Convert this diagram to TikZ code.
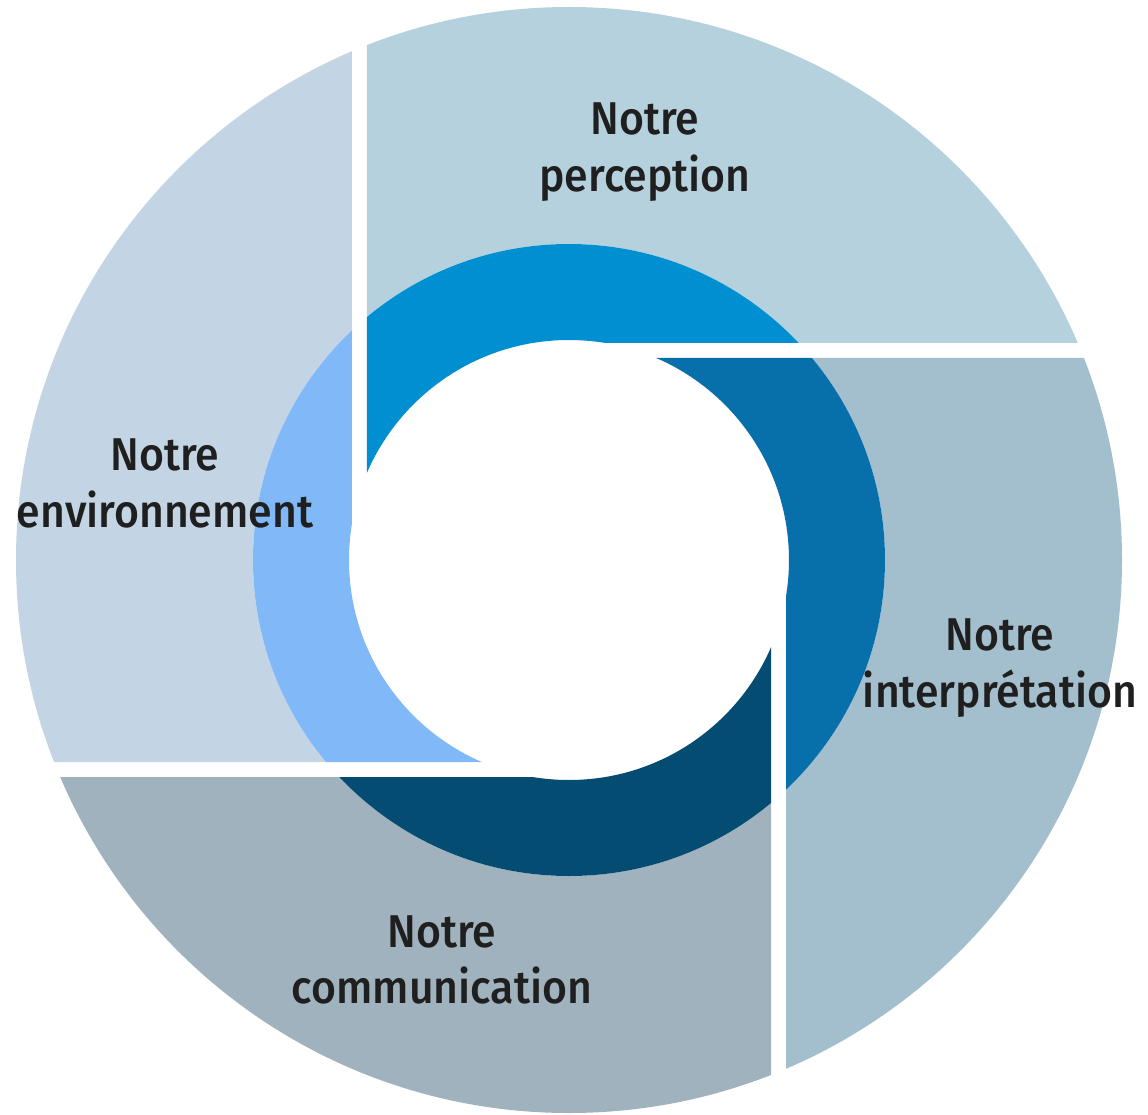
\documentclass[tikz,border=0pt]{standalone}
\usepackage{fontspec}
\newfontfamily\lblfont{Fira Sans Medium}[FakeStretch=0.93]
\definecolor{percL}{RGB}{181,209,222}
\definecolor{percR}{RGB}{0,143,209}
\definecolor{interL}{RGB}{163,191,205}
\definecolor{interR}{RGB}{7,111,169}
\definecolor{commL}{RGB}{160,178,189}
\definecolor{commR}{RGB}{5,76,115}
\definecolor{envL}{RGB}{195,212,228}
\definecolor{envR}{RGB}{128,184,248}
\definecolor{txt}{RGB}{31,31,31}
\newcommand\pinpiece[3]{%
  \begin{scope}[rotate=#1]
    \clip (-202,0) -- (-202,600) -- (600,600) -- (600,217) -- (0,217) -- (0,0) -- cycle;
    \fill[#2, even odd rule] (0,0) circle[radius=553] (0,0) circle[radius=316];
    \fill[#3, even odd rule] (0,0) circle[radius=316] (0,0) circle[radius=220];
  \end{scope}}
\tikzset{lbl/.style={anchor=base, inner sep=0pt, text=txt, font=\lblfont\fontsize{46}{56}\selectfont}}
\begin{document}
\begin{tikzpicture}[x=1pt,y=1pt]
\fill[white] (-569,-554) rectangle (579,560);
\useasboundingbox (-569,-554) rectangle (579,560);
\pinpiece{0}{percL}{percR}
\pinpiece{-90}{interL}{interR}
\pinpiece{-180}{commL}{commR}
\pinpiece{-270}{envL}{envR}
\node[lbl] (p1) at (76,425) {Notre};
\node[lbl] (p2) at (76,368) {perception};
\node[lbl] (i1) at (431,-90) {Notre};
\node[lbl] (i2) at (431,-147) {interprétation};
\node[lbl] (e1) at (-404,90) {Notre};
\node[lbl] (e2) at (-404,33) {environnement};
\node[lbl] (c1) at (-127,-387) {Notre};
\node[lbl] (c2) at (-127,-443) {communication};
\end{tikzpicture}
\end{document}
